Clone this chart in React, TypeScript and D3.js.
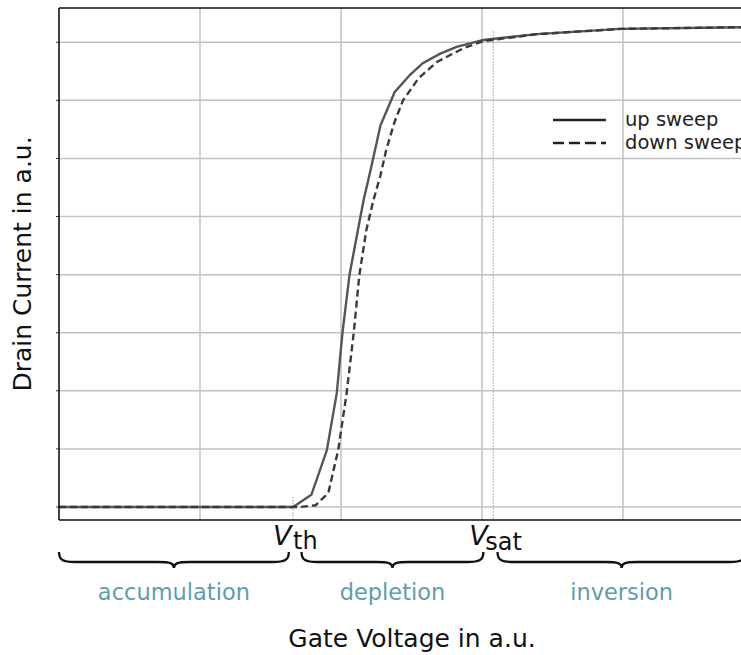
import React from "react";
import * as d3 from "d3";

const upX = [0, 1.0, 1.66, 1.79, 1.9, 1.97, 2.01, 2.06, 2.1, 2.16, 2.21, 2.28, 2.38, 2.49, 2.58, 2.7, 2.82, 3.01, 3.39, 3.98, 4.84, 5.0];
const upY = [0, 0, 0, 0.21, 0.98, 1.96, 2.99, 3.99, 4.51, 5.28, 5.8, 6.57, 7.14, 7.44, 7.64, 7.8, 7.92, 8.04, 8.14, 8.23, 8.26, 8.27];
const downX = [0, 1.0, 1.71, 1.82, 1.91, 1.98, 2.04, 2.09, 2.13, 2.18, 2.23, 2.28, 2.32, 2.38, 2.44, 2.55, 2.68, 2.87, 3.01, 3.39, 3.98, 4.84, 5.0];
const downY = [0, 0, 0, 0.03, 0.24, 0.98, 1.96, 2.99, 3.99, 4.77, 5.28, 5.71, 6.14, 6.63, 7.0, 7.38, 7.66, 7.9, 8.02, 8.14, 8.23, 8.26, 8.27];
const xTicks = [1, 2, 3, 4];
const yTicks = [0, 1, 2, 3, 4, 5, 6, 7, 8];
const vth = 1.66;
const vsat = 3.08;
const vthTop = 0.17;
const vsatTop = 8.19;
const regionNames = ["accumulation", "depletion", "inversion"];
const regionStart = [0, 1.72, 3.11];
const regionEnd = [1.63, 3.01, 4.87];
const seriesNames = ["up sweep", "down sweep"];

export default function App() {
  const W = 741, H = 655;
  const left = 59, right = 764, top = 8, bottom = 520;
  const x = d3.scaleLinear().domain([0, 5]).range([left, right]);
  const y = d3.scaleLinear().domain([-0.224, 8.59]).range([bottom, top]);
  const line = d3.line<[number, number]>().x(d => x(d[0])).y(d => y(d[1]));
  const up = line(upX.map((v, i) => [v, upY[i]]) as [number, number][]);
  const down = line(downX.map((v, i) => [v, downY[i]]) as [number, number][]);
  const font = "DejaVu Sans, Verdana, sans-serif";

  const brace = (x1: number, x2: number) => {
    const y0 = 552, yb = 562, yt = 568;
    const mid = (x1 + x2) / 2;
    return `M${x1},${y0} C${x1},${yb - 2} ${x1 + 4},${yb} ${x1 + 16},${yb} L${mid - 16},${yb} C${mid - 4},${yb} ${mid},${yb + 1} ${mid},${yt} C${mid},${yb + 1} ${mid + 4},${yb} ${mid + 16},${yb} L${x2 - 16},${yb} C${x2 - 4},${yb} ${x2},${yb - 2} ${x2},${y0}`;
  };

  return (
    <svg width={W} height={H} style={{ position: "absolute", left: 0, top: 0, overflow: "hidden", background: "#fff" }} fontFamily={font}>
      <defs>
        <clipPath id="plot">
          <rect x={left} y={top} width={right - left} height={bottom - top} />
        </clipPath>
      </defs>
      <rect x={0} y={0} width={W} height={H} fill="#fff" />
      {xTicks.map(t => (
        <line key={"gx" + t} x1={x(t)} x2={x(t)} y1={top} y2={bottom} stroke="#c2c2c2" strokeWidth={1.5} />
      ))}
      {yTicks.map(t => (
        <line key={"gy" + t} x1={left} x2={right} y1={y(t)} y2={y(t)} stroke="#c2c2c2" strokeWidth={1.5} />
      ))}
      {yTicks.map(t => (
        <line key={"ty" + t} x1={left - 3} x2={left} y1={y(t)} y2={y(t)} stroke="#333" strokeWidth={1} />
      ))}
      <line x1={x(vth)} x2={x(vth)} y1={y(vthTop)} y2={bottom + 1} stroke="#999" strokeWidth={1} strokeDasharray="1.5,1.5" />
      <line x1={x(vsat)} x2={x(vsat)} y1={y(vsatTop)} y2={bottom + 1} stroke="#999" strokeWidth={1} strokeDasharray="1.5,1.5" />
      <g clipPath="url(#plot)">
        <path d={up || ""} fill="none" stroke="#555" strokeWidth={2.4} />
        <path d={down || ""} fill="none" stroke="#3a3a3a" strokeWidth={2.4} strokeDasharray="7,4" />
      </g>
      <line x1={left} x2={left} y1={top} y2={bottom} stroke="#111" strokeWidth={1.6} />
      <line x1={left} x2={W} y1={bottom} y2={bottom} stroke="#111" strokeWidth={1.6} />
      <line x1={left} x2={W} y1={top} y2={top} stroke="#111" strokeWidth={1.6} />
      {/* legend */}
      <line x1={553} x2={606} y1={120} y2={120} stroke="#222" strokeWidth={2.4} />
      <line x1={553} x2={606} y1={143} y2={143} stroke="#222" strokeWidth={2.4} strokeDasharray="11,5" />
      <text x={625} y={126} fontSize={19.5} fill="#222">{seriesNames[0]}</text>
      <text x={625} y={149} fontSize={19.5} fill="#222">{seriesNames[1]}</text>
      {/* Vth / Vsat labels */}
      <text x={x(vth) - 20} y={545} fontSize={27} fontStyle="italic" fill="#111">V</text>
      <text x={x(vth) + 0} y={549} fontSize={24} fill="#111">th</text>
      <text x={x(vsat) - 24} y={545} fontSize={27} fontStyle="italic" fill="#111">V</text>
      <text x={x(vsat) - 8} y={550} fontSize={24} fill="#111">sat</text>
      {/* braces */}
      {regionNames.map((r, i) => (
        <g key={r}>
          <path d={brace(x(regionStart[i]), x(regionEnd[i]))} fill="none" stroke="#111" strokeWidth={2.3} />
          <text x={(x(regionStart[i]) + x(regionEnd[i])) / 2} y={600} fontSize={22.5} fill="#5e9dab" textAnchor="middle">{r}</text>
        </g>
      ))}
      <text x={(287 + 537) / 2} y={647} fontSize={25} fill="#111" textAnchor="middle">Gate Voltage in a.u.</text>
      <text transform={`translate(31,${(top + bottom) / 2}) rotate(-90)`} fontSize={25} fill="#111" textAnchor="middle">Drain Current in a.u.</text>
    </svg>
  );
}
